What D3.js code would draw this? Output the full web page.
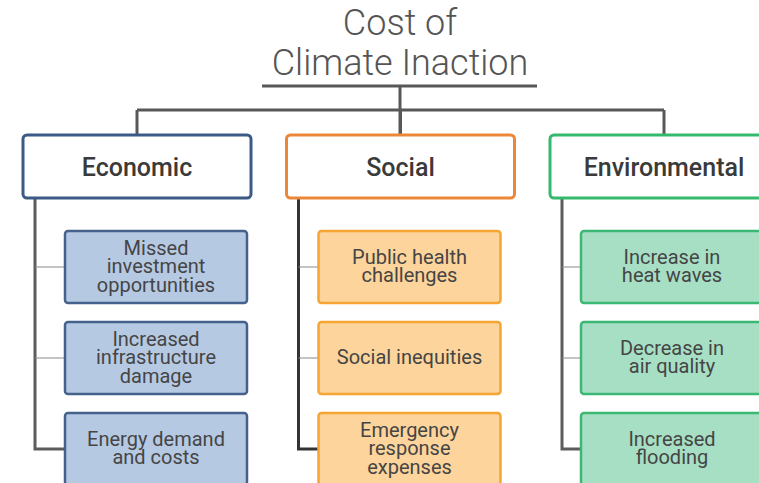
<!DOCTYPE html>
<html>
<head>
<meta charset="utf-8">
<script src="https://cdn.jsdelivr.net/npm/d3@7"></script>
<style>
  html, body { margin: 0; padding: 0; background: #fff; overflow: hidden; }
  svg { display: block; font-family: Roboto, "Noto Sans", sans-serif; }
</style>
</head>
<body>
<div id="chart"></div>
<script>
/**
 * DATA
 * */
const titleLines = ["Cost of", "Climate Inaction"];
const categories = ["Economic", "Social", "Environmental"];
const economicItems = [["Missed", "investment", "opportunities"], ["Increased", "infrastructure", "damage"], ["Energy demand", "and costs"]];
const socialItems = [["Public health", "challenges"], ["Social inequities"], ["Emergency", "response", "expenses"]];
const environmentalItems = [["Increase in", "heat waves"], ["Decrease in", "air quality"], ["Increased", "flooding"]];
const items = [economicItems, socialItems, environmentalItems];

/**
 * CONSTANTS AND GLOBALS
 * */
const width = 759, height = 483;
const headerW = 228, headerH = 63, headerTop = 135;
const childW = 182, childH = 72;
const stemOffset = -102;            // stem x relative to column centre
const childOffsets = [-72, -82, -83]; // child box left relative to column centre
const lineColor = "#585858";
const palette = [
  { stroke: "#3b5b86", fill: "#b6c9e3", childStroke: "#44628c", stem: "#5c5c5c" },
  { stroke: "#ec873a", fill: "#fdd49b", childStroke: "#f5a533", stem: "#333333" },
  { stroke: "#35b96c", fill: "#a7dfc4", childStroke: "#3bb874", stem: "#5c5c5c" }
];

const x = d3.scaleLinear().domain([0, categories.length - 1]).range([137, 664]);
const y = d3.scaleLinear().domain([0, 2]).range([231, 413]);

const svg = d3.select("#chart").append("svg")
  .attr("width", width)
  .attr("height", height);

// title
svg.append("g").selectAll("text")
  .data(titleLines)
  .join("text")
    .attr("x", 400)
    .attr("y", (d, i) => 35 + i * 40)
    .attr("text-anchor", "middle")
    .attr("font-size", 36)
    .attr("font-weight", 300)
    .attr("fill", "#555")
    .text(d => d);

// root connectors
const links = svg.append("g").attr("stroke", lineColor).attr("stroke-width", 3).attr("fill", "none");
links.append("line").attr("x1", 262).attr("x2", 537).attr("y1", 86).attr("y2", 86);
links.append("line").attr("x1", 400).attr("x2", 400).attr("y1", 86).attr("y2", headerTop);
links.append("line").attr("x1", x(0)).attr("x2", x(categories.length - 1)).attr("y1", 110).attr("y2", 110);
links.selectAll(".drop")
  .data(categories)
  .join("line")
    .attr("class", "drop")
    .attr("x1", (d, i) => x(i)).attr("x2", (d, i) => x(i))
    .attr("y1", 110).attr("y2", headerTop);

// columns
const col = svg.append("g").selectAll("g.col")
  .data(categories)
  .join("g")
    .attr("class", "col");

// stems with L end into last child
col.append("path")
  .attr("fill", "none")
  .attr("stroke", (d, i) => palette[i].stem)
  .attr("stroke-width", 3)
  .attr("d", (d, i) => {
    const sx = x(i) + stemOffset;
    const last = items[i].length - 1;
    const ey = y(last) + childH / 2;
    return `M${sx},${headerTop + headerH}V${ey}H${x(i) + childOffsets[i]}`;
  });

// thin branches to the other children
col.each(function (d, i) {
  d3.select(this).selectAll("line.branch")
    .data(items[i].slice(0, -1))
    .join("line")
      .attr("class", "branch")
      .attr("stroke", "#8a8a8a")
      .attr("stroke-width", 1)
      .attr("x1", x(i) + stemOffset)
      .attr("x2", x(i) + childOffsets[i])
      .attr("y1", (c, j) => y(j) + childH / 2)
      .attr("y2", (c, j) => y(j) + childH / 2);
});

// header boxes
col.append("rect")
  .attr("x", (d, i) => x(i) - headerW / 2)
  .attr("y", headerTop)
  .attr("width", headerW)
  .attr("height", headerH)
  .attr("rx", 4)
  .attr("fill", "#fff")
  .attr("stroke", (d, i) => palette[i].stroke)
  .attr("stroke-width", 3);

col.append("text")
  .attr("x", (d, i) => x(i))
  .attr("y", headerTop + headerH / 2)
  .attr("dy", "0.36em")
  .attr("text-anchor", "middle")
  .attr("font-size", 25)
  .attr("font-weight", 500)
  .attr("fill", "#3a3a3a")
  .text(d => d);

// child boxes
col.each(function (d, i) {
  const child = d3.select(this).selectAll("g.child")
    .data(items[i])
    .join("g")
      .attr("class", "child")
      .attr("transform", (c, j) => `translate(${x(i) + childOffsets[i]},${y(j)})`);

  child.append("rect")
    .attr("width", childW)
    .attr("height", childH)
    .attr("rx", 3)
    .attr("fill", palette[i].fill)
    .attr("stroke", palette[i].childStroke)
    .attr("stroke-width", 2.5);

  child.append("g").selectAll("text")
    .data(c => c.map((t, k) => ({ t, k, n: c.length })))
    .join("text")
      .attr("x", childW / 2)
      .attr("y", t => childH / 2 + 6 + (t.k - (t.n - 1) / 2) * 18.5)
      .attr("text-anchor", "middle")
      .attr("font-size", 20)
      .attr("fill", "#454545")
      .text(t => t.t);
});
</script>
</body>
</html>
